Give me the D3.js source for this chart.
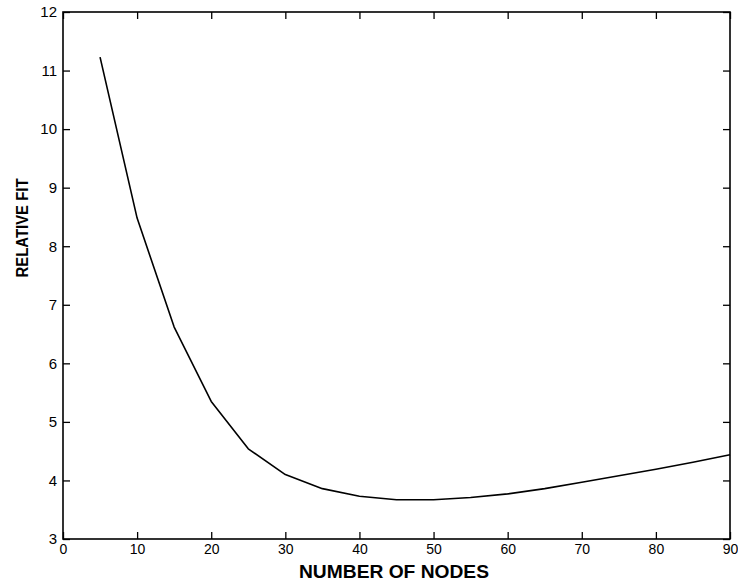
<!DOCTYPE html>
<html>
<head>
<meta charset="utf-8">
<script src="https://cdn.jsdelivr.net/npm/d3@7"></script>
<style>
  body { margin: 0; background: #fff; }
  svg text { font-family: "Liberation Sans", Arial, Helvetica, sans-serif; fill: #000; }
  .axis path { display: none; }
  .axis line { stroke: #000; stroke-width: 1.3; }
  .axis text { font-size: 15px; }
  .x-axis text { font-size: 14px; }
  .axis-label { font-weight: bold; }
</style>
</head>
<body>
<svg id="chart"></svg>
<script>
// data
const nodes = [5, 10, 15, 20, 25, 30, 35, 40, 45, 50, 55, 60, 65, 70, 75, 80, 85, 90];
const relFit = [11.23, 8.48, 6.62, 5.35, 4.54, 4.10, 3.86, 3.73, 3.67, 3.67, 3.71, 3.77, 3.86, 3.97, 4.08, 4.19, 4.31, 4.44];
const xTicks = [0, 10, 20, 30, 40, 50, 60, 70, 80, 90];
const yTicks = [3, 4, 5, 6, 7, 8, 9, 10, 11, 12];

const W = 738, H = 586;
const margin = { top: 12, right: 8, bottom: 47, left: 63 };
const width = W - margin.left - margin.right;
const height = H - margin.top - margin.bottom;
const tick = 7;

const svg = d3.select("#chart").attr("width", W).attr("height", H);
const g = svg.append("g").attr("transform", `translate(${margin.left},${margin.top})`);

const x = d3.scaleLinear().domain([0, 90]).range([0, width]);
const y = d3.scaleLinear().domain([3, 12]).range([height, 0]);

// bottom axis (ticks point inward)
g.append("g")
  .attr("class", "axis x-axis")
  .attr("transform", `translate(0,${height})`)
  .call(d3.axisBottom(x).tickValues(xTicks).tickSizeInner(-tick).tickSizeOuter(0).tickPadding(5));

// top ticks, no labels
g.append("g")
  .attr("class", "axis")
  .call(d3.axisTop(x).tickValues(xTicks).tickSizeInner(-tick).tickSizeOuter(0).tickFormat(""));

// left axis
g.append("g")
  .attr("class", "axis")
  .call(d3.axisLeft(y).tickValues(yTicks).tickSizeInner(-tick).tickSizeOuter(0).tickPadding(6));

// right ticks
g.append("g")
  .attr("class", "axis")
  .attr("transform", `translate(${width},0)`)
  .call(d3.axisRight(y).tickValues(yTicks).tickSizeInner(-tick).tickSizeOuter(0).tickFormat(""));

// frame
g.append("rect")
  .attr("width", width)
  .attr("height", height)
  .attr("fill", "none")
  .attr("stroke", "#000")
  .attr("stroke-width", 1.6);

// the curve
const line = d3.line()
  .x((d, i) => x(nodes[i]))
  .y(d => y(d));

g.append("path")
  .datum(relFit)
  .attr("fill", "none")
  .attr("stroke", "#000")
  .attr("stroke-width", 1.6)
  .attr("stroke-linejoin", "round")
  .attr("d", line);

// axis titles (slightly condensed, like the original)
svg.append("text")
  .attr("class", "axis-label")
  .attr("x", 394)
  .attr("y", 578)
  .attr("text-anchor", "middle")
  .style("font-size", "18px")
  .attr("textLength", 190)
  .attr("lengthAdjust", "spacingAndGlyphs")
  .text("NUMBER OF NODES");

svg.append("text")
  .attr("class", "axis-label")
  .attr("transform", "translate(28,228) rotate(-90)")
  .attr("text-anchor", "middle")
  .style("font-size", "16px")
  .attr("textLength", 99)
  .attr("lengthAdjust", "spacingAndGlyphs")
  .text("RELATIVE FIT");
</script>
</body>
</html>
